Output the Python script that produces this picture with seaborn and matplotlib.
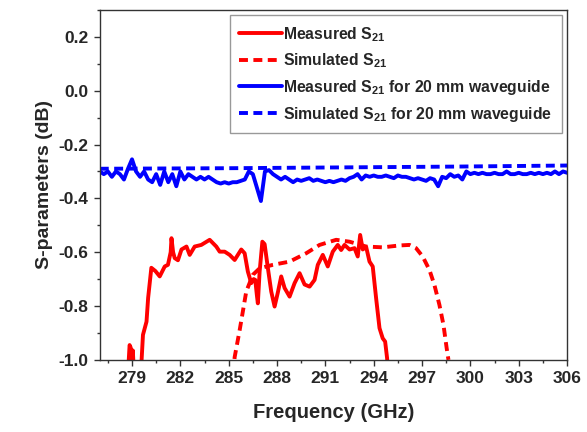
import numpy as np
import pandas as pd
import matplotlib
matplotlib.use("Agg")
import matplotlib.pyplot as plt
from matplotlib.ticker import MultipleLocator, FormatStrFormatter
import seaborn as sns

# DATA
# measured S21, full structure
freqMeas = [278.75, 278.85, 278.92, 278.98, 279.05, 279.12, 279.55, 279.68, 279.90, 280.00,
            280.20, 280.45, 280.72, 281.03, 281.23, 281.40, 281.45, 281.55, 281.65, 281.85,
            282.07, 282.38, 282.58, 282.89, 283.30, 283.82, 284.23, 284.44, 284.75, 285.06,
            285.37, 285.78, 285.99, 286.19, 286.40, 286.55, 286.65, 286.75, 286.81, 286.92,
            287.09, 287.23, 287.43, 287.64, 287.85, 288.05, 288.26, 288.47, 288.78, 289.09,
            289.40, 289.71, 290.02, 290.33, 290.53, 290.84, 291.15, 291.46, 291.77, 291.98,
            292.19, 292.50, 292.81, 293.01, 293.16, 293.32, 293.53, 293.74, 293.94, 294.15,
            294.36, 294.56, 294.71, 294.83, 294.90]
s21Meas = [-1.05, -0.945, -0.955, -1.0, -0.965, -1.05, -1.05, -0.907, -0.858, -0.77,
           -0.658, -0.67, -0.69, -0.653, -0.647, -0.60, -0.548, -0.60, -0.622, -0.63,
           -0.59, -0.579, -0.61, -0.579, -0.573, -0.554, -0.579, -0.598, -0.598, -0.61,
           -0.629, -0.59, -0.604, -0.672, -0.715, -0.70, -0.703, -0.76, -0.79, -0.672,
           -0.561, -0.57, -0.658, -0.746, -0.802, -0.75, -0.69, -0.733, -0.765, -0.715,
           -0.678, -0.72, -0.728, -0.703, -0.647, -0.61, -0.653, -0.598, -0.573, -0.592,
           -0.573, -0.59, -0.585, -0.616, -0.536, -0.59, -0.58, -0.635, -0.653, -0.771,
           -0.882, -0.92, -0.932, -0.993, -1.05]

# simulated S21, full structure
freqSim = [285.30, 285.37, 285.68, 285.88, 286.09, 286.50, 286.92, 287.74, 288.78, 289.81,
           290.64, 291.67, 292.50, 293.53, 294.56, 295.60, 296.22, 296.63, 297.04, 297.46,
           297.77, 298.08, 298.33, 298.53, 298.64]
s21Sim = [-1.05, -0.99, -0.89, -0.82, -0.746, -0.684, -0.66, -0.647, -0.635, -0.604,
          -0.573, -0.554, -0.561, -0.579, -0.582, -0.575, -0.573, -0.585, -0.616, -0.666,
          -0.722, -0.796, -0.87, -0.957, -1.0]

# measured S21, 20 mm waveguide (0.25 GHz steps, one row per GHz)
freqWgMeas = np.arange(277.0, 306.001, 0.25)
s21WgMeas = [-0.30, -0.31, -0.30, -0.32,
             -0.30, -0.31, -0.33, -0.29,
             -0.255, -0.30, -0.32, -0.30,
             -0.33, -0.34, -0.31, -0.35,
             -0.30, -0.34, -0.31, -0.355,
             -0.30, -0.33, -0.31, -0.32,
             -0.33, -0.32, -0.33, -0.32,
             -0.33, -0.34, -0.345, -0.34,
             -0.345, -0.34, -0.34, -0.335,
             -0.33, -0.30, -0.31, -0.36,
             -0.41, -0.30, -0.295, -0.31,
             -0.32, -0.33, -0.32, -0.33,
             -0.34, -0.33, -0.335, -0.33,
             -0.325, -0.335, -0.33, -0.335,
             -0.34, -0.335, -0.34, -0.335,
             -0.33, -0.335, -0.325, -0.32,
             -0.31, -0.33, -0.315, -0.32,
             -0.315, -0.32, -0.32, -0.315,
             -0.32, -0.325, -0.315, -0.32,
             -0.32, -0.325, -0.33, -0.325,
             -0.33, -0.335, -0.325, -0.33,
             -0.355, -0.32, -0.325, -0.31,
             -0.32, -0.315, -0.33, -0.30,
             -0.31, -0.305, -0.31, -0.305,
             -0.31, -0.31, -0.305, -0.31,
             -0.31, -0.30, -0.31, -0.31,
             -0.305, -0.31, -0.31, -0.305,
             -0.31, -0.305, -0.31, -0.305,
             -0.31, -0.30, -0.31, -0.30,
             -0.305]

# simulated S21, 20 mm waveguide
freqWgSim = [277.0, 285.0, 292.0, 299.0, 306.0]
s21WgSim = [-0.290, -0.288, -0.285, -0.282, -0.278]

labels = [r"Measured S$_{21}$",
          r"Simulated S$_{21}$",
          r"Measured S$_{21}$ for 20 mm waveguide",
          r"Simulated S$_{21}$ for 20 mm waveguide"]

# STYLE
sns.set_style("ticks")
plt.rcParams['font.family'] = ['Liberation Sans', 'DejaVu Sans']
plt.rcParams['font.weight'] = 'bold'
plt.rcParams['mathtext.fontset'] = 'custom'
plt.rcParams['mathtext.rm'] = 'Liberation Sans:bold'
plt.rcParams['mathtext.bf'] = 'Liberation Sans:bold'
plt.rcParams['mathtext.default'] = 'rm'

fig = plt.figure(figsize=(5.87, 4.32), dpi=100)
ax = fig.add_axes([0.170, 0.167, 0.796, 0.810])

red = '#FF0000'
blue = '#0000FF'
lw = 2.8
dash = (2.3, 1.4)

sns.lineplot(x=freqMeas, y=s21Meas, ax=ax, color=red, lw=lw, sort=False,
             estimator=None, label=labels[0])
sns.lineplot(x=freqSim, y=s21Sim, ax=ax, color=red, lw=lw, sort=False,
             estimator=None, label=labels[1])
ax.lines[-1].set_dashes(dash)
sns.lineplot(x=freqWgMeas, y=s21WgMeas, ax=ax, color=blue, lw=lw, sort=False,
             estimator=None, label=labels[2])
sns.lineplot(x=freqWgSim, y=s21WgSim, ax=ax, color=blue, lw=lw, sort=False,
             estimator=None, label=labels[3])
ax.lines[-1].set_dashes(dash)

ax.set_xlim(277, 306)
ax.set_ylim(-1.0, 0.3)
ax.set_xticks(np.arange(279, 306.1, 3))
ax.xaxis.set_minor_locator(MultipleLocator(1.5))
ax.yaxis.set_major_locator(MultipleLocator(0.2))
ax.yaxis.set_minor_locator(MultipleLocator(0.1))
ax.yaxis.set_major_formatter(FormatStrFormatter('%.1f'))

ax.tick_params(which='major', direction='out', length=4.5, width=1, labelsize=12.5,
               color='#333333')
ax.tick_params(which='minor', direction='out', length=2.5, width=1, color='#333333')
for s in ax.spines.values():
    s.set_visible(True)
    s.set_color('#333333')
    s.set_linewidth(1)

ax.set_xlabel('Frequency (GHz)', fontsize=14.5, fontweight='bold', labelpad=12)
ax.set_ylabel('S-parameters (dB)', fontsize=14, fontweight='bold', labelpad=4)

leg = ax.legend(loc='upper right', bbox_to_anchor=(1.0, 1.0), borderaxespad=0.35,
                fontsize=11.3, handlelength=2.7, handletextpad=0.1, labelspacing=0.5,
                borderpad=0.6, fancybox=False, framealpha=1, edgecolor='#999999')
leg.get_frame().set_linewidth(1)

fig.savefig('out.png', dpi=100)
